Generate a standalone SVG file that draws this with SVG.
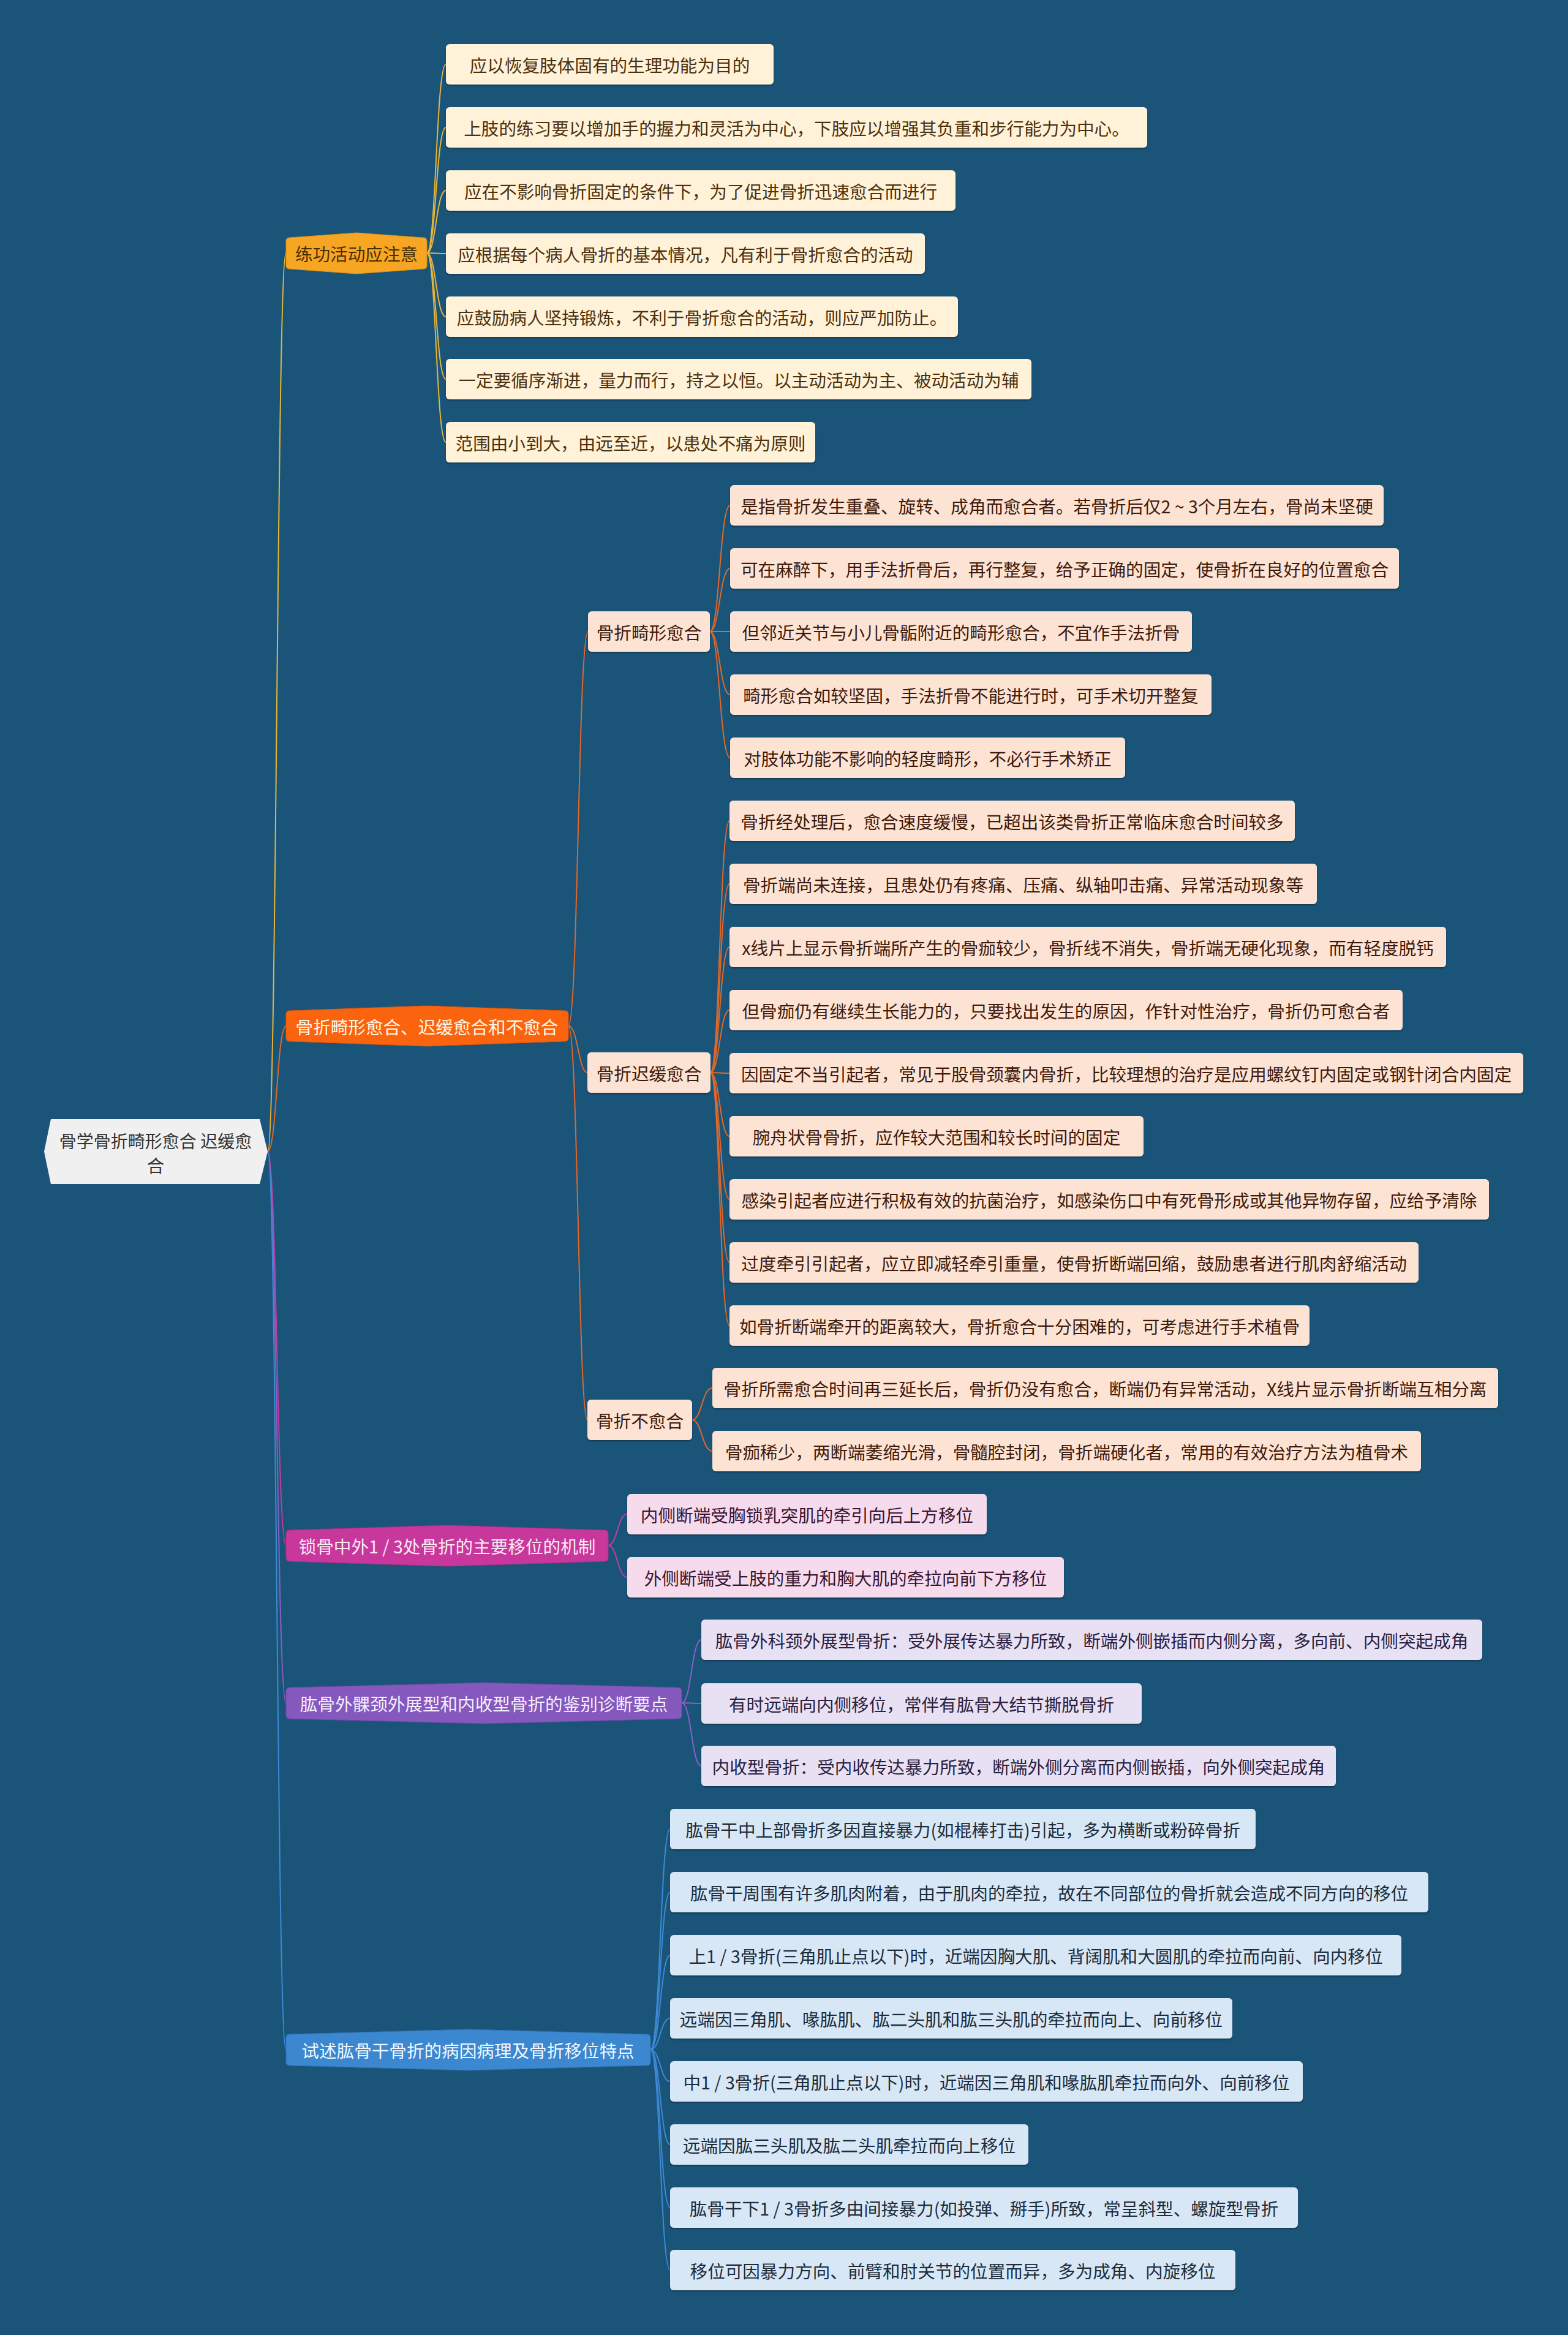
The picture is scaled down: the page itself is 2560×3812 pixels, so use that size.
<svg xmlns="http://www.w3.org/2000/svg" width="2560" height="3812" viewBox="0 0 2560 3812">
<defs>
<filter id="sh" x="-5%" y="-20%" width="110%" height="150%"><feDropShadow dx="0" dy="2" stdDeviation="1" flood-color="#000" flood-opacity="0.3"/></filter>
<style>
.t{font-family:"Noto Sans CJK SC","Noto Sans",sans-serif;font-size:28.6px;text-anchor:middle;dominant-baseline:central}
.lf rect{filter:url(#sh)}
.la rect{fill:#fff2d8}.la text{fill:#4d300c}
.lb rect{fill:#fde3d3}.lb text{fill:#3f1a0b}
.lc rect{fill:#f6dbec}.lc text{fill:#3a1432}
.ld rect{fill:#e7e1f3}.ld text{fill:#2b2040}
.le rect{fill:#d7e7f5}.le text{fill:#1c2c3c}
.cn path{fill:none;stroke-width:2}
.ca path{stroke:#e6b53c}.cb path{stroke:#e0682a}.cc path{stroke:#c23d9e}.cd path{stroke:#8b5fc4}.ce path{stroke:#3d8ad6}
</style>
</defs>
<rect width="2560" height="3812" fill="#1a5479"/>

<g id="connectors" class="cn">
<g class="ca">
<path d="M437,1880 C452,1880 452,413 467,413"/>
<path d="M697,413 C712,413 712,105 728,105"/>
<path d="M697,413 C712,413 712,208 728,208"/>
<path d="M697,413 C712,413 712,311 728,311"/>
<path d="M697,413 C712,413 712,414 728,414"/>
<path d="M697,413 C712,413 712,517 728,517"/>
<path d="M697,413 C712,413 712,619 728,619"/>
<path d="M697,413 C712,413 712,722 728,722"/>
</g>
<g class="cb">
<path d="M437,1880 C452,1880 452,1675 467,1675"/>
<path d="M928,1675 C944,1675 944,1031 960,1031"/>
<path d="M928,1675 C944,1675 944,1751 959,1751"/>
<path d="M928,1675 C944,1675 944,2318 959,2318"/>
<path d="M1159,1031 C1175,1031 1175,825 1192,825"/>
<path d="M1159,1031 C1175,1031 1175,928 1192,928"/>
<path d="M1159,1031 C1175,1031 1175,1031 1192,1031"/>
<path d="M1159,1031 C1175,1031 1175,1134 1192,1134"/>
<path d="M1159,1031 C1175,1031 1175,1237 1192,1237"/>
<path d="M1160,1751 C1175,1751 1175,1340 1191,1340"/>
<path d="M1160,1751 C1175,1751 1175,1443 1191,1443"/>
<path d="M1160,1751 C1175,1751 1175,1546 1191,1546"/>
<path d="M1160,1751 C1175,1751 1175,1649 1191,1649"/>
<path d="M1160,1751 C1175,1751 1175,1752 1191,1752"/>
<path d="M1160,1751 C1175,1751 1175,1855 1191,1855"/>
<path d="M1160,1751 C1175,1751 1175,1958 1191,1958"/>
<path d="M1160,1751 C1175,1751 1175,2061 1191,2061"/>
<path d="M1160,1751 C1175,1751 1175,2164 1191,2164"/>
<path d="M1130,2318 C1146,2318 1146,2266 1163,2266"/>
<path d="M1130,2318 C1146,2318 1146,2369 1163,2369"/>
</g>
<g class="cc">
<path d="M437,1880 C452,1880 452,2523 467,2523"/>
<path d="M993,2523 C1008,2523 1008,2472 1024,2472"/>
<path d="M993,2523 C1008,2523 1008,2575 1024,2575"/>
</g>
<g class="cd">
<path d="M437,1880 C452,1880 452,2780 467,2780"/>
<path d="M1113,2780 C1129,2780 1129,2677 1145,2677"/>
<path d="M1113,2780 C1129,2780 1129,2781 1145,2781"/>
<path d="M1113,2780 C1129,2780 1129,2883 1145,2883"/>
</g>
<g class="ce">
<path d="M437,1880 C452,1880 452,3346 467,3346"/>
<path d="M1062,3346 C1078,3346 1078,2986 1094,2986"/>
<path d="M1062,3346 C1078,3346 1078,3089 1094,3089"/>
<path d="M1062,3346 C1078,3346 1078,3192 1094,3192"/>
<path d="M1062,3346 C1078,3346 1078,3295 1094,3295"/>
<path d="M1062,3346 C1078,3346 1078,3398 1094,3398"/>
<path d="M1062,3346 C1078,3346 1078,3501 1094,3501"/>
<path d="M1062,3346 C1078,3346 1078,3604 1094,3604"/>
<path d="M1062,3346 C1078,3346 1078,3706 1094,3706"/>
</g>
</g>

<g id="root">
<polygon points="83,1827 424,1827 437,1880 424,1933 83,1933 72,1880" fill="#f0f0f0"/>
<text class="t" x="254" y="1862" fill="#333" style="font-size:28px">骨学骨折畸形愈合 迟缓愈</text>
<text class="t" x="254" y="1902" fill="#333" style="font-size:28px">合</text>
</g>

<g id="n-a">
<path d="M467,394 Q467,388 473,388 L582,380 L691,388 Q697,388 697,394 L697,433 Q697,439 691,439 L582,447 L473,439 Q467,439 467,433 Z" fill="#f6a623" stroke="#d98f14" stroke-width="1"/>
<text class="t" x="582" y="413.5" fill="#4a2e00">练功活动应注意</text>
</g>
<g id="n-b">
<path d="M467,1656 Q467,1650 473,1650 L697,1642 L922,1650 Q928,1650 928,1656 L928,1694 Q928,1700 922,1700 L697,1708 L473,1700 Q467,1700 467,1694 Z" fill="#fa640e" stroke="#d9550a" stroke-width="1"/>
<text class="t" x="697" y="1675" fill="#fff6e8">骨折畸形愈合、迟缓愈合和不愈合</text>
</g>
<g id="n-c">
<path d="M467,2504 Q467,2498 473,2498 L730,2490 L987,2498 Q993,2498 993,2504 L993,2543 Q993,2549 987,2549 L730,2557 L473,2549 Q467,2549 467,2543 Z" fill="#c8379c" stroke="#ad2d86" stroke-width="1"/>
<text class="t" x="730" y="2523.5" fill="#fbeaf4">锁骨中外1 / 3处骨折的主要移位的机制</text>
</g>
<g id="n-d">
<path d="M467,2761 Q467,2755 473,2755 L790,2747 L1107,2755 Q1113,2755 1113,2761 L1113,2800 Q1113,2806 1107,2806 L790,2814 L473,2806 Q467,2806 467,2800 Z" fill="#8558bd" stroke="#6f46a6" stroke-width="1"/>
<text class="t" x="790" y="2780.5" fill="#f4eefc">肱骨外髁颈外展型和内收型骨折的鉴别诊断要点</text>
</g>
<g id="n-e">
<path d="M467,3327 Q467,3321 473,3321 L764,3313 L1056,3321 Q1062,3321 1062,3327 L1062,3366 Q1062,3372 1056,3372 L764,3380 L473,3372 Q467,3372 467,3366 Z" fill="#3b87d0" stroke="#2f73b6" stroke-width="1"/>
<text class="t" x="764" y="3346.5" fill="#f2f8ff">试述肱骨干骨折的病因病理及骨折移位特点</text>
</g>

<g class="lf la">
<g id="a1"><rect x="728" y="72" width="535" height="66" rx="6"/><text class="t" x="995.5" y="105">应以恢复肢体固有的生理功能为目的</text></g>
<g id="a2"><rect x="728" y="175" width="1145" height="66" rx="6"/><text class="t" x="1300.5" y="208">上肢的练习要以增加手的握力和灵活为中心，下肢应以增强其负重和步行能力为中心。</text></g>
<g id="a3"><rect x="728" y="278" width="832" height="66" rx="6"/><text class="t" x="1144" y="311">应在不影响骨折固定的条件下，为了促进骨折迅速愈合而进行</text></g>
<g id="a4"><rect x="728" y="381" width="782" height="66" rx="6"/><text class="t" x="1119" y="414">应根据每个病人骨折的基本情况，凡有利于骨折愈合的活动</text></g>
<g id="a5"><rect x="728" y="484" width="836" height="66" rx="6"/><text class="t" x="1146" y="517">应鼓励病人坚持锻炼，不利于骨折愈合的活动，则应严加防止。</text></g>
<g id="a6"><rect x="728" y="586" width="956" height="66" rx="6"/><text class="t" x="1206" y="619">一定要循序渐进，量力而行，持之以恒。以主动活动为主、被动活动为辅</text></g>
<g id="a7"><rect x="728" y="689" width="603" height="66" rx="6"/><text class="t" x="1029.5" y="722">范围由小到大，由远至近，以患处不痛为原则</text></g>
</g>

<g class="lf lb">
<g id="b1"><rect x="960" y="998" width="199" height="66" rx="6"/><text class="t" x="1059.5" y="1031">骨折畸形愈合</text></g>
<g id="b2"><rect x="959" y="1718" width="201" height="66" rx="6"/><text class="t" x="1059.5" y="1751">骨折迟缓愈合</text></g>
<g id="b3"><rect x="959" y="2285" width="171" height="66" rx="6"/><text class="t" x="1044.5" y="2318">骨折不愈合</text></g>

<g id="b1-1"><rect x="1192" y="792" width="1067" height="66" rx="6"/><text class="t" x="1725.5" y="825">是指骨折发生重叠、旋转、成角而愈合者。若骨折后仅2 ~ 3个月左右，骨尚未坚硬</text></g>
<g id="b1-2"><rect x="1192" y="895" width="1092" height="66" rx="6"/><text class="t" x="1738" y="928">可在麻醉下，用手法折骨后，再行整复，给予正确的固定，使骨折在良好的位置愈合</text></g>
<g id="b1-3"><rect x="1192" y="998" width="754" height="66" rx="6"/><text class="t" x="1569" y="1031">但邻近关节与小儿骨骺附近的畸形愈合，不宜作手法折骨</text></g>
<g id="b1-4"><rect x="1192" y="1101" width="786" height="66" rx="6"/><text class="t" x="1585" y="1134">畸形愈合如较坚固，手法折骨不能进行时，可手术切开整复</text></g>
<g id="b1-5"><rect x="1192" y="1204" width="645" height="66" rx="6"/><text class="t" x="1514.5" y="1237">对肢体功能不影响的轻度畸形，不必行手术矫正</text></g>

<g id="b2-1"><rect x="1191" y="1307" width="923" height="66" rx="6"/><text class="t" x="1652.5" y="1340">骨折经处理后，愈合速度缓慢，已超出该类骨折正常临床愈合时间较多</text></g>
<g id="b2-2"><rect x="1191" y="1410" width="959" height="66" rx="6"/><text class="t" x="1670.5" y="1443">骨折端尚未连接，且患处仍有疼痛、压痛、纵轴叩击痛、异常活动现象等</text></g>
<g id="b2-3"><rect x="1191" y="1513" width="1170" height="66" rx="6"/><text class="t" x="1776" y="1546">x线片上显示骨折端所产生的骨痂较少，骨折线不消失，骨折端无硬化现象，而有轻度脱钙</text></g>
<g id="b2-4"><rect x="1191" y="1616" width="1099" height="66" rx="6"/><text class="t" x="1740.5" y="1649">但骨痂仍有继续生长能力的，只要找出发生的原因，作针对性治疗，骨折仍可愈合者</text></g>
<g id="b2-5"><rect x="1191" y="1719" width="1296" height="66" rx="6"/><text class="t" x="1839" y="1752">因固定不当引起者，常见于股骨颈囊内骨折，比较理想的治疗是应用螺纹钉内固定或钢针闭合内固定</text></g>
<g id="b2-6"><rect x="1191" y="1822" width="676" height="66" rx="6"/><text class="t" x="1529" y="1855">腕舟状骨骨折，应作较大范围和较长时间的固定</text></g>
<g id="b2-7"><rect x="1191" y="1925" width="1240" height="66" rx="6"/><text class="t" x="1811" y="1958">感染引起者应进行积极有效的抗菌治疗，如感染伤口中有死骨形成或其他异物存留，应给予清除</text></g>
<g id="b2-8"><rect x="1191" y="2028" width="1125" height="66" rx="6"/><text class="t" x="1753.5" y="2061">过度牵引引起者，应立即减轻牵引重量，使骨折断端回缩，鼓励患者进行肌肉舒缩活动</text></g>
<g id="b2-9"><rect x="1191" y="2131" width="947" height="66" rx="6"/><text class="t" x="1664.5" y="2164">如骨折断端牵开的距离较大，骨折愈合十分困难的，可考虑进行手术植骨</text></g>

<g id="b3-1"><rect x="1163" y="2233" width="1283" height="66" rx="6"/><text class="t" x="1804.5" y="2266">骨折所需愈合时间再三延长后，骨折仍没有愈合，断端仍有异常活动，X线片显示骨折断端互相分离</text></g>
<g id="b3-2"><rect x="1163" y="2336" width="1157" height="66" rx="6"/><text class="t" x="1741.5" y="2369">骨痂稀少，两断端萎缩光滑，骨髓腔封闭，骨折端硬化者，常用的有效治疗方法为植骨术</text></g>
</g>

<g class="lf lc">
<g id="c1"><rect x="1024" y="2439" width="587" height="66" rx="6"/><text class="t" x="1317.5" y="2472">内侧断端受胸锁乳突肌的牵引向后上方移位</text></g>
<g id="c2"><rect x="1024" y="2542" width="713" height="66" rx="6"/><text class="t" x="1380.5" y="2575">外侧断端受上肢的重力和胸大肌的牵拉向前下方移位</text></g>
</g>

<g class="lf ld">
<g id="d1"><rect x="1145" y="2644" width="1275" height="66" rx="6"/><text class="t" x="1782.5" y="2677">肱骨外科颈外展型骨折：受外展传达暴力所致，断端外侧嵌插而内侧分离，多向前、内侧突起成角</text></g>
<g id="d2"><rect x="1145" y="2748" width="719" height="66" rx="6"/><text class="t" x="1504.5" y="2781">有时远端向内侧移位，常伴有肱骨大结节撕脱骨折</text></g>
<g id="d3"><rect x="1145" y="2850" width="1036" height="66" rx="6"/><text class="t" x="1663" y="2883">内收型骨折：受内收传达暴力所致，断端外侧分离而内侧嵌插，向外侧突起成角</text></g>
</g>

<g class="lf le">
<g id="e1"><rect x="1094" y="2953" width="956" height="66" rx="6"/><text class="t" x="1572" y="2986">肱骨干中上部骨折多因直接暴力(如棍棒打击)引起，多为横断或粉碎骨折</text></g>
<g id="e2"><rect x="1094" y="3056" width="1238" height="66" rx="6"/><text class="t" x="1713" y="3089">肱骨干周围有许多肌肉附着，由于肌肉的牵拉，故在不同部位的骨折就会造成不同方向的移位</text></g>
<g id="e3"><rect x="1094" y="3159" width="1194" height="66" rx="6"/><text class="t" x="1691" y="3192">上1 / 3骨折(三角肌止点以下)时，近端因胸大肌、背阔肌和大圆肌的牵拉而向前、向内移位</text></g>
<g id="e4"><rect x="1094" y="3262" width="918" height="66" rx="6"/><text class="t" x="1553" y="3295">远端因三角肌、喙肱肌、肱二头肌和肱三头肌的牵拉而向上、向前移位</text></g>
<g id="e5"><rect x="1094" y="3365" width="1033" height="66" rx="6"/><text class="t" x="1610.5" y="3398">中1 / 3骨折(三角肌止点以下)时，近端因三角肌和喙肱肌牵拉而向外、向前移位</text></g>
<g id="e6"><rect x="1094" y="3468" width="585" height="66" rx="6"/><text class="t" x="1386.5" y="3501">远端因肱三头肌及肱二头肌牵拉而向上移位</text></g>
<g id="e7"><rect x="1094" y="3571" width="1025" height="66" rx="6"/><text class="t" x="1606.5" y="3604">肱骨干下1 / 3骨折多由间接暴力(如投弹、掰手)所致，常呈斜型、螺旋型骨折</text></g>
<g id="e8"><rect x="1094" y="3673" width="923" height="66" rx="6"/><text class="t" x="1555.5" y="3706">移位可因暴力方向、前臂和肘关节的位置而异，多为成角、内旋移位</text></g>
</g>
</svg>
